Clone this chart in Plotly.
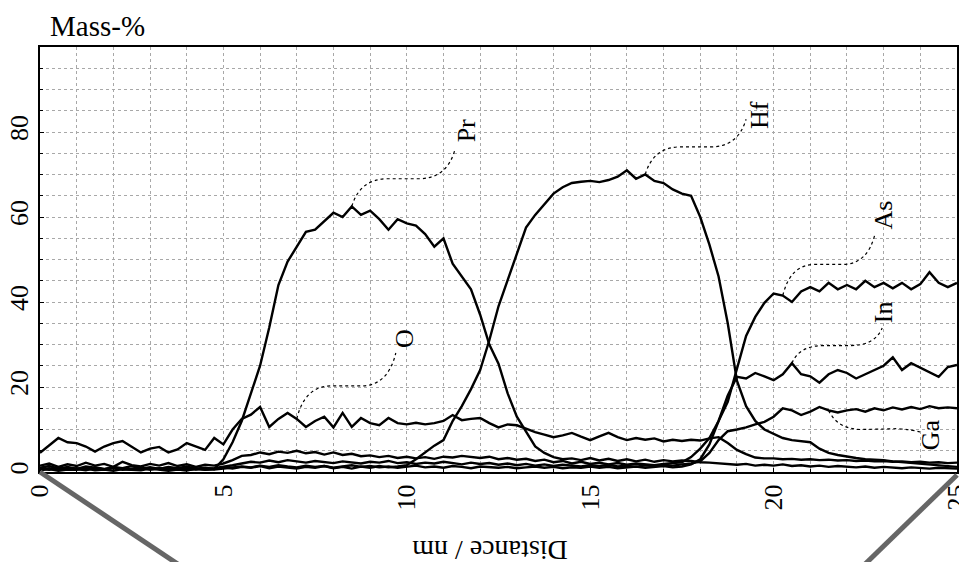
import plotly.graph_objects as go

# ---------------- data ----------------
distance_nm = [
    0.0, 0.25, 0.5, 0.75, 1.0, 1.25, 1.5, 1.75, 2.0, 2.25, 2.5, 2.75, 3.0, 3.25, 3.5, 3.75, 4.0, 4.25, 4.5, 4.75,
    5.0, 5.25, 5.5, 5.75, 6.0, 6.25, 6.5, 6.75, 7.0, 7.25, 7.5, 7.75, 8.0, 8.25, 8.5, 8.75, 9.0, 9.25, 9.5, 9.75,
    10.0, 10.25, 10.5, 10.75, 11.0, 11.25, 11.5, 11.75, 12.0, 12.25, 12.5, 12.75, 13.0, 13.25, 13.5, 13.75, 14.0, 14.25, 14.5, 14.75,
    15.0, 15.25, 15.5, 15.75, 16.0, 16.25, 16.5, 16.75, 17.0, 17.25, 17.5, 17.75, 18.0, 18.25, 18.5, 18.75, 19.0, 19.25, 19.5, 19.75,
    20.0, 20.25, 20.5, 20.75, 21.0, 21.25, 21.5, 21.75, 22.0, 22.25, 22.5, 22.75, 23.0, 23.25, 23.5, 23.75, 24.0, 24.25, 24.5, 24.75, 25.0,
]

pr_mass = [
    0.8, 0.5, 1.0, 0.6, 0.9, 0.5, 1.1, 0.7, 0.9, 0.5, 0.8, 1.0, 0.6, 0.9, 0.5, 0.8, 1.0, 0.6, 0.9, 0.7,
    3.0, 7.0, 12.0, 18.5, 25.0, 34.0, 44.0, 49.5, 53.0, 56.5, 57.0, 59.0, 61.0, 60.0, 62.5, 60.5, 61.5, 59.5, 57.0, 59.5,
    58.5, 58.0, 56.0, 53.0, 55.0, 49.0, 46.0, 43.0, 37.0, 30.0, 25.5, 18.5, 13.0, 9.5, 6.0, 4.5, 3.5, 3.0, 3.2, 2.8,
    3.3, 2.7, 3.1, 2.6, 3.0, 2.5, 2.9, 2.4, 2.8, 2.5, 2.7, 2.6, 2.3, 2.2, 2.0, 1.8, 1.7, 1.9, 1.5, 1.7,
    1.5, 1.8, 1.4, 1.6, 1.3, 1.5, 1.2, 1.4, 1.3, 1.1, 1.3, 1.0, 1.2, 1.1, 0.9, 1.1, 1.0, 0.8, 1.0, 0.9, 0.8,
]

hf_mass = [
    1.0, 1.4, 0.8, 1.2, 0.7, 1.3, 1.0, 0.6, 1.2, 0.9, 1.4, 0.8, 1.1, 0.7, 1.2, 0.9, 1.3, 0.8, 1.0, 0.7,
    1.1, 0.8, 1.2, 1.0, 1.4, 0.9, 1.3, 1.1, 0.8, 1.2, 1.0, 1.4, 0.9, 1.2, 0.8, 1.3, 1.0, 1.4, 1.1, 1.3,
    1.6, 3.0, 4.7, 6.2, 7.5, 12.0, 15.5, 19.5, 24.0, 31.0, 39.0, 45.0, 51.0, 57.5, 60.5, 63.0, 65.5, 67.0, 68.0, 68.3,
    68.5, 68.2, 68.7, 69.5, 71.0, 69.0, 70.0, 68.5, 68.0, 66.5, 65.5, 65.0, 60.0, 53.5, 46.0, 35.0, 21.5, 15.5, 12.0, 10.0,
    9.0, 8.0, 7.5, 7.2, 7.0, 5.5, 4.5, 4.0, 3.6, 3.3, 3.0, 2.9, 2.8, 2.5, 2.3, 2.1, 1.9, 1.7, 1.5, 1.3, 1.2,
]

as_mass = [
    1.5, 2.0, 1.2, 1.8, 1.4, 2.2, 1.5, 1.9, 1.2, 2.4, 1.6, 1.3, 1.9, 1.5, 2.1, 1.4, 1.8, 1.2, 1.7, 1.5,
    2.0, 2.8, 3.8, 4.0, 4.6, 4.2, 4.8, 4.5, 5.0, 4.4, 4.7, 4.1, 4.6, 4.0, 4.3, 3.7, 3.9, 3.5, 3.8, 3.3,
    3.6, 3.2, 3.5, 3.1, 3.6, 3.4, 3.8, 3.5, 3.3, 3.6, 3.0, 3.3, 2.9, 3.1, 2.6, 2.9, 2.3, 2.6, 2.0, 2.4,
    1.9, 2.2, 1.8, 2.1, 1.7, 2.0, 1.8, 1.6, 1.9, 2.1, 2.3, 3.5, 5.5, 8.0, 12.0, 16.5, 24.0, 32.0, 36.5, 39.8,
    42.0, 41.5, 40.0, 42.5, 43.5, 42.5, 44.5, 43.0, 44.0, 43.0, 45.0, 43.5, 44.5, 43.2, 44.5, 43.0, 44.2, 47.0, 44.5, 43.5, 44.5,
]

in_mass = [
    0.4, 0.7, 0.3, 0.6, 0.5, 0.8, 0.4, 0.6, 0.3, 0.7, 0.5, 0.4, 0.8, 0.5, 0.3, 0.6, 0.4, 0.7, 0.5, 0.6,
    0.8, 1.0, 1.3, 1.1, 1.5, 1.2, 1.6, 1.3, 1.1, 1.5, 1.2, 1.4, 1.0, 1.3, 1.6, 1.2, 1.4, 1.1, 1.3, 1.0,
    1.2, 1.5, 1.1, 1.3, 1.0, 1.4, 1.2, 0.9, 1.3, 1.1, 1.0, 1.2, 0.9, 1.1, 1.3, 1.0, 1.2, 0.9, 1.1, 1.0,
    1.3, 1.0, 1.2, 0.9, 1.1, 1.3, 1.0, 1.2, 1.4, 1.1, 1.3, 1.8, 3.0, 6.5, 12.0, 18.0, 22.4, 22.0, 23.3, 22.5,
    21.6, 23.0, 25.6, 23.0, 22.5, 21.0, 23.0, 24.0, 23.3, 22.0, 23.0, 24.0, 25.0, 27.0, 24.0, 25.6, 24.5, 23.5, 22.4, 24.7, 25.2,
]

ga_mass = [
    0.6, 0.9, 0.5, 1.0, 0.7, 0.4, 0.9, 0.6, 1.1, 0.7, 0.5, 0.9, 0.6, 0.8, 1.0, 0.6, 0.4, 0.8, 0.6, 0.9,
    1.2, 1.6, 2.0, 2.4, 2.2, 2.7, 2.3, 2.8, 2.5, 2.2, 2.6, 2.4, 2.1, 2.5, 2.3, 2.0, 2.4, 2.2, 2.6, 2.1,
    2.3, 1.9, 2.2, 2.0, 2.4, 2.1, 1.8, 2.2, 1.9, 2.1, 1.7, 2.0, 1.6, 1.9, 1.5, 1.8, 1.4, 1.7, 1.5, 1.3,
    1.6, 1.4, 1.7, 1.3, 1.5, 1.2, 1.6, 1.4, 1.7, 1.5, 1.8, 2.0, 2.5, 4.5, 7.5, 9.6, 10.0, 10.5, 11.2, 11.8,
    13.0, 15.0, 14.5, 13.4, 14.2, 15.3, 14.5, 14.0, 14.5, 14.8, 14.2, 15.0, 14.5, 15.2, 14.7, 15.3, 14.8, 15.5, 15.0, 15.2, 15.0,
]

o_mass = [
    4.5, 6.2, 8.0, 7.0, 6.8, 6.0, 4.8, 6.0, 6.8, 7.3, 6.0, 4.6, 5.5, 5.9, 4.6, 5.3, 6.8, 6.0, 5.2, 8.0,
    6.5, 10.0, 12.5, 13.5, 15.3, 10.6, 12.5, 13.9, 12.5, 10.6, 12.0, 13.0, 10.5, 13.9, 10.6, 12.7, 11.5, 11.0, 12.7, 11.5,
    11.2, 11.6, 11.2, 11.5, 12.0, 13.4, 12.2, 12.5, 12.7, 11.5, 10.5, 11.2, 11.0, 10.2, 9.4, 8.8, 8.2, 8.6, 9.2, 8.3,
    7.5, 8.4, 9.2, 8.2, 7.5, 8.0, 7.6, 7.9, 7.2, 7.6, 7.3, 7.6, 7.4, 7.9, 8.2, 6.8, 5.2, 4.2, 3.4, 3.2,
    3.2, 3.0, 3.1, 2.9, 3.0, 2.8, 2.9, 2.7, 2.8, 2.6, 2.7, 2.5, 2.6, 2.4, 2.5, 2.3, 2.4, 2.2, 2.3, 2.1, 2.2,
]

x_tick_vals = [0, 5, 10, 15, 20, 25]
y_tick_vals = [0, 20, 40, 60, 80]

series = [
    ("Pr", pr_mass),
    ("Hf", hf_mass),
    ("As", as_mass),
    ("In", in_mass),
    ("Ga", ga_mass),
    ("O", o_mass),
]

# label layout: anchor distance on curve, leader end point, text centre
labels = {
    "Pr": dict(ax=8.5, ex=11.3, ey=75.5, tx=11.62, ty=80.2),
    "Hf": dict(ax=16.5, ex=19.25, ey=83.0, tx=19.6, ty=84.0),
    "As": dict(ax=20.25, ex=22.77, ey=56.2, tx=23.0, ty=60.5),
    "In": dict(ax=20.5, ex=22.96, ey=33.9, tx=23.0, ty=37.5),
    "O": dict(ax=7.0, ex=9.7, ey=28.0, tx=9.92, ty=31.5),
    "Ga": dict(ax=21.5, ex=24.0, ey=9.4, tx=24.27, ty=8.7),
}

SERIF = "Liberation Serif, Times New Roman, serif"

fig = go.Figure()
for name, vals in series:
    fig.add_trace(go.Scatter(
        x=distance_nm, y=vals, mode="lines", name=name,
        line=dict(color="black", width=2.4),
        showlegend=False,
    ))

shapes = []
annotations = []
data_map = dict(series)
for name, lab in labels.items():
    vals = data_map[name]
    i = distance_nm.index(lab["ax"])
    x0, y0 = distance_nm[i], vals[i]
    x1, y1 = lab["ex"], lab["ey"]
    dx = x1 - x0
    if name == "Ga":
        path = (f"M {x0},{y0} Q {x0 + 0.25},{y1 + 0.6} {x0 + 0.9},{y1 + 0.6} "
                f"L {x1 - 0.6},{y1 + 0.8} Q {x1 - 0.2},{y1 + 0.5} {x1},{y1}")
    else:
        ym = (y0 + y1) / 2
        path = (f"M {x0},{y0} Q {x0 + 0.08 * dx},{ym} {x0 + 0.35 * dx},{ym} "
                f"L {x0 + 0.65 * dx},{ym} Q {x1 - 0.08 * dx},{ym} {x1},{y1}")
    shapes.append(dict(type="path", path=path, xref="x", yref="y",
                       line=dict(color="black", width=1.2, dash="dot")))
    annotations.append(dict(x=lab["tx"], y=lab["ty"], xref="x", yref="y",
                            text=name, showarrow=False, textangle=-90,
                            xanchor="center", yanchor="middle",
                            font=dict(family=SERIF, size=26, color="black")))

# scan-artefact diagonal bands below the axis corners
for (xa, ya, xb, yb) in [(0.0, 0.0, 0.163, -0.235), (1.0, -0.007, 0.891, -0.235)]:
    shapes.append(dict(type="line", xref="paper", yref="paper",
                       x0=xa, y0=ya, x1=xb, y1=yb,
                       line=dict(color="#666666", width=5)))

annotations.append(dict(x=0.009, y=1.05, xref="paper", yref="paper",
                        text="Mass-%", showarrow=False, xanchor="left", yanchor="middle",
                        font=dict(family=SERIF, size=29, color="black")))
annotations.append(dict(x=0.49, y=-0.185, xref="paper", yref="paper",
                        text="Distance / nm", showarrow=False, textangle=180,
                        xanchor="center", yanchor="middle",
                        font=dict(family=SERIF, size=28, color="black")))

grid_col = "#a8a8a8"
# the page body has an 8px margin, so the figure is sized/offset to compensate
fig.update_layout(
    width=951, height=554,
    margin=dict(l=32, r=2, t=39, b=90, autoexpand=False),
    paper_bgcolor="white", plot_bgcolor="white",
    shapes=shapes, annotations=annotations,
    showlegend=False,
)
fig.update_xaxes(
    range=[0, 25], tickvals=x_tick_vals, ticktext=[str(v) for v in x_tick_vals],
    tickangle=-90, tickfont=dict(family=SERIF, size=26, color="black"),
    automargin=False, ticklabeloverflow="allow",
    showline=True, linecolor="black", linewidth=2, mirror=True,
    ticks="inside", ticklen=4, tickcolor="black",
    showgrid=True, gridcolor=grid_col, griddash="dot", gridwidth=1,
    minor=dict(dtick=1, showgrid=True, gridcolor=grid_col, griddash="dot",
               ticks="inside", ticklen=3, tickcolor="black"),
    zeroline=False,
)
fig.update_yaxes(
    range=[0, 100], tickvals=y_tick_vals, ticktext=[str(v) for v in y_tick_vals],
    tickangle=-90, tickfont=dict(family=SERIF, size=26, color="black"),
    automargin=False, ticklabeloverflow="allow",
    showline=True, linecolor="black", linewidth=2, mirror=True,
    ticks="inside", ticklen=4, tickcolor="black",
    showgrid=True, gridcolor=grid_col, griddash="dot", gridwidth=1,
    minor=dict(dtick=5, showgrid=True, gridcolor=grid_col, griddash="dot",
               ticks="inside", ticklen=3, tickcolor="black"),
    zeroline=False,
)

fig.write_html("out.html")
